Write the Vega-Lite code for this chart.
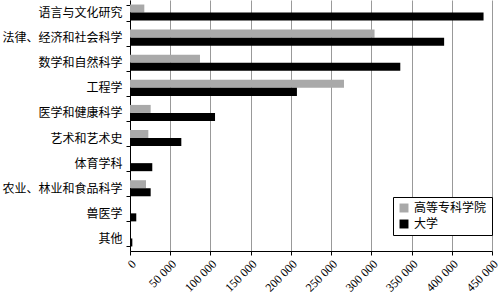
{
  "$schema": "https://vega.github.io/schema/vega-lite/v6.json",
  "autosize": "none",
  "width": 362,
  "height": 251,
  "padding": {"left": 130, "top": 0, "right": 9, "bottom": 44},
  "background": "white",
  "data": {
    "values": [
      {"field": "语言与文化研究", "type": "高等专科学院", "value": 17800},
      {"field": "语言与文化研究", "type": "大学", "value": 439500},
      {"field": "法律、经济和社会科学", "type": "高等专科学院", "value": 304000},
      {"field": "法律、经济和社会科学", "type": "大学", "value": 390500},
      {"field": "数学和自然科学", "type": "高等专科学院", "value": 87000},
      {"field": "数学和自然科学", "type": "大学", "value": 336000},
      {"field": "工程学", "type": "高等专科学院", "value": 266000},
      {"field": "工程学", "type": "大学", "value": 207500},
      {"field": "医学和健康科学", "type": "高等专科学院", "value": 25700},
      {"field": "医学和健康科学", "type": "大学", "value": 105700},
      {"field": "艺术和艺术史", "type": "高等专科学院", "value": 22800},
      {"field": "艺术和艺术史", "type": "大学", "value": 63800},
      {"field": "体育学科", "type": "高等专科学院", "value": 0},
      {"field": "体育学科", "type": "大学", "value": 27700},
      {"field": "农业、林业和食品科学", "type": "高等专科学院", "value": 19900},
      {"field": "农业、林业和食品科学", "type": "大学", "value": 25700},
      {"field": "兽医学", "type": "高等专科学院", "value": 0},
      {"field": "兽医学", "type": "大学", "value": 7800},
      {"field": "其他", "type": "高等专科学院", "value": 0},
      {"field": "其他", "type": "大学", "value": 2900}
    ]
  },
  "mark": {"type": "bar"},
  "encoding": {
    "y": {
      "field": "field",
      "type": "nominal",
      "sort": null,
      "scale": {"paddingInner": 0.36, "paddingOuter": 0.18},
      "axis": {
        "title": null,
        "labelFont": "Noto Sans CJK SC",
        "labelFontSize": 12,
        "labelColor": "#000",
        "labelPadding": 4,
        "tickBand": "extent",
        "tickColor": "#000",
        "tickSize": 4,
        "domainColor": "#000",
        "grid": false
      }
    },
    "yOffset": {
      "field": "type",
      "type": "nominal",
      "scale": {"domain": ["高等专科学院", "大学"]}
    },
    "x": {
      "field": "value",
      "type": "quantitative",
      "scale": {"domain": [0, 450000], "nice": false},
      "axis": {
        "title": null,
        "values": [0, 50000, 100000, 150000, 200000, 250000, 300000, 350000, 400000, 450000],
        "labelExpr": "replace(format(datum.value, ','), ',', ' ')",
        "labelAngle": -45,
        "labelFont": "Liberation Serif",
        "labelFontSize": 12,
        "labelColor": "#000",
        "labelPadding": 3,
        "tickColor": "#000",
        "tickSize": 4,
        "domainColor": "#000",
        "grid": true,
        "gridColor": "#999999",
        "gridWidth": 1
      }
    },
    "color": {
      "field": "type",
      "type": "nominal",
      "scale": {"domain": ["高等专科学院", "大学"], "range": ["#a9a9a9", "#000000"]},
      "legend": {
        "title": null,
        "orient": "none",
        "legendX": 263,
        "legendY": 197,
        "symbolType": "square",
        "symbolSize": 80,
        "symbolStrokeWidth": 0,
        "labelFont": "Noto Sans CJK SC",
        "labelFontSize": 12,
        "labelColor": "#000",
        "strokeColor": "#000",
        "padding": 5,
        "rowPadding": 4,
        "fillColor": "white"
      }
    }
  },
  "config": {"view": {"stroke": null}}
}
